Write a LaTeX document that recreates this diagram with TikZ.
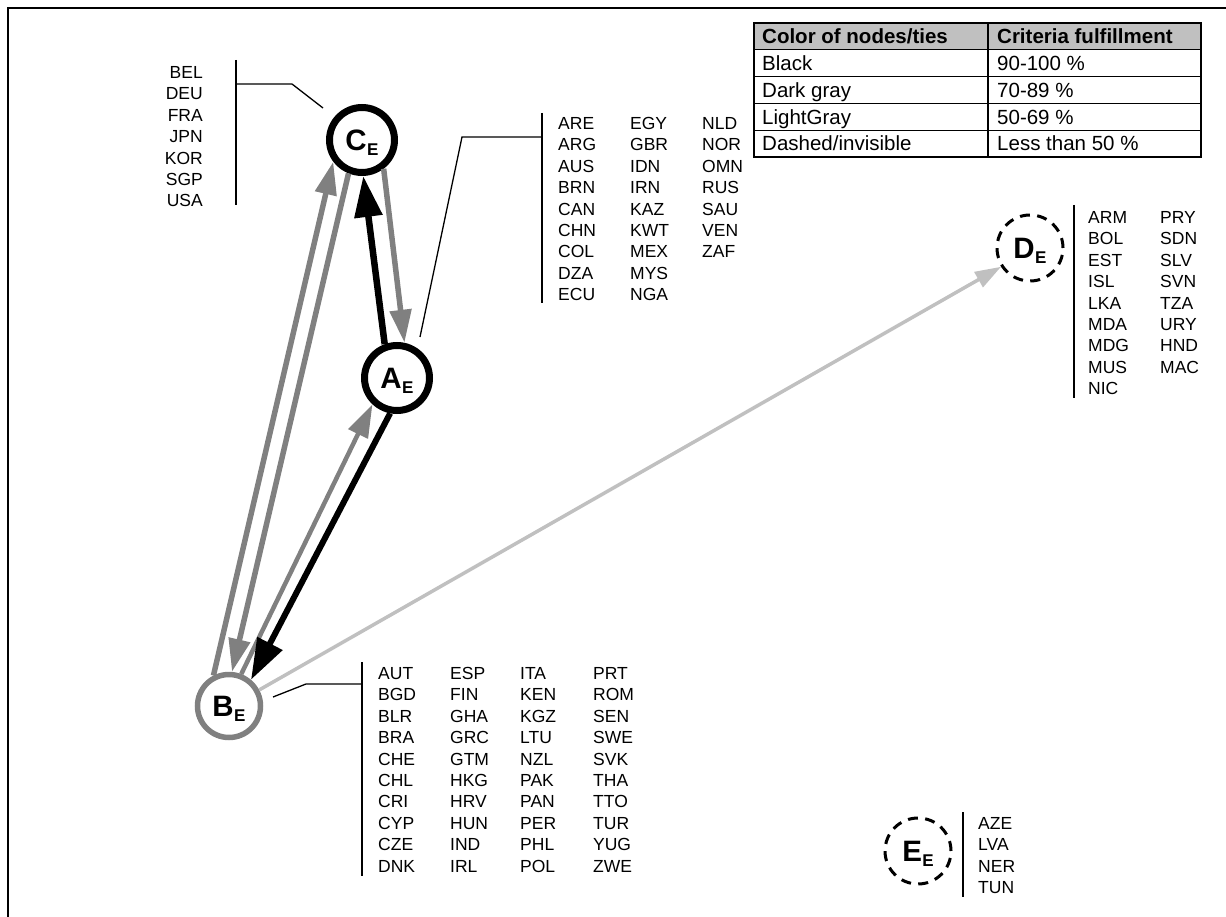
\documentclass[tikz,border=0pt]{standalone}
\usepackage{fontspec}
\setmainfont{Liberation Sans}
\usepackage{array}
\usetikzlibrary{arrows.meta}

\definecolor{dgray}{RGB}{128,128,128}
\definecolor{lgray}{RGB}{192,192,192}
\definecolor{hdrgray}{RGB}{192,192,192}

\newcommand{\listfont}{\fontsize{17.5}{21.4}\selectfont}
\newcommand{\tabfont}{\fontsize{20.5}{24}\selectfont}
\newcommand{\nlab}[1]{{\fontsize{29.5}{31}\selectfont\bfseries #1}\kern0.5pt\raisebox{-5pt}{\fontsize{17}{19}\selectfont\bfseries E}}

\begin{document}
\begin{tikzpicture}[x=1pt,y=-1pt,
  blkstate/.style={circle, inner sep=0pt, text depth=0pt, minimum size=65pt, line width=7pt, draw=black},
  grystate/.style={circle, inner sep=0pt, text depth=0pt, minimum size=63pt, line width=5.5pt, draw=dgray},
  dshstate/.style={circle, inner sep=0pt, text depth=0pt, minimum size=66pt, line width=3pt, draw=black, dash pattern=on 10pt off 7.3pt},
  blktie/.style={draw=black, line width=6.5pt, -{Triangle[length=41pt,width=27pt]}},
  grytie/.style={draw=dgray, line width=5.5pt, -{Triangle[length=33pt,width=21pt]}},
  lgrtie/.style={draw=lgray, line width=3.5pt, -{Triangle[length=26pt,width=17pt]}},
  leader/.style={draw=black, line width=1.3pt},
  thickbar/.style={draw=black, line width=2.2pt},
  lst/.style={inner sep=0pt, font=\listfont},
  tabtxt/.style={inner sep=0pt, anchor=base west, font=\tabfont}
]
\useasboundingbox (0,0) rectangle (1226,917);

% frame
\coordinate (fbl) at (8,917);
\coordinate (ftl) at (8,8);
\coordinate (ftr) at (1226,8);
\draw[line width=2pt] (fbl) -- (ftl) -- (ftr);

% table
\fill[hdrgray] (754,23) rectangle (1201,49.8);
\foreach \yy in {49.8,76.6,103.4,130.2} \draw[line width=1.3pt] (754,\yy) -- (1201,\yy);
\draw[line width=1.3pt] (988,23) -- (988,157);
\draw[line width=2pt] (754,23) rectangle (1201,157);
\node[tabtxt] (h1) at (762,43.7) {\bfseries Color of nodes/ties};
\node[tabtxt] (h2) at (997,43.7) {\bfseries Criteria fulfillment};
\node[tabtxt] (r1a) at (762,70.5) {Black};
\node[tabtxt] (r1b) at (997,70.5) {90-100 \%};
\node[tabtxt] (r2a) at (762,97.3) {Dark gray};
\node[tabtxt] (r2b) at (997,97.3) {70-89 \%};
\node[tabtxt] (r3a) at (762,124.1) {LightGray};
\node[tabtxt] (r3b) at (997,124.1) {50-69 \%};
\node[tabtxt] (r4a) at (762,150.9) {Dashed/invisible};
\node[tabtxt] (r4b) at (997,150.9) {Less than 50 \%};

% states
\node[blkstate] (C) at (362,140) {\nlab{C}};
\node[blkstate] (A) at (397,378) {\nlab{A}};
\node[grystate] (B) at (229,706) {\nlab{B}};
\node[dshstate] (D) at (1030,248) {\nlab{D}};
\node[dshstate] (E) at (918,851) {\nlab{E}};

% ties
\draw[grytie] (B.117) -- (C.217.5);
\draw[grytie] (C.248) -- (B.85.5);
\draw[blktie] (A.110) -- (C.272);
\draw[grytie] (C.307.5) -- (A.78);
\draw[grytie, line width=4.5pt] (B.69) -- (A.227);
\draw[blktie, line width=6pt] (A.259) -- (B.50.6);
\draw[lgrtie] (B.28.6) -- (D.213);

% C list
\node[lst, anchor=north east] (Clist) at (203,63.3) {\begin{tabular}{@{}r@{}}BEL\\DEU\\FRA\\JPN\\KOR\\SGP\\USA\end{tabular}};
\coordinate (Cbt) at (236,60);
\coordinate (Cbb) at (236,205);
\coordinate (Cbm) at (236,84);
\coordinate (Ck) at (292,84);
\coordinate (Ce) at (323,108);
\draw[leader] (Cbt) -- (Cbb);
\draw[leader] (Cbm) -- (Ck) -- (Ce);

% A list
\node[lst, anchor=north west] (Alist) at (558,114.3) {\begin{tabular}{@{}p{72pt}@{}p{72pt}@{}l@{}}
ARE & EGY & NLD\\ ARG & GBR & NOR\\ AUS & IDN & OMN\\ BRN & IRN & RUS\\ CAN & KAZ & SAU\\ CHN & KWT & VEN\\ COL & MEX & ZAF\\ DZA & MYS & \\ ECU & NGA & \end{tabular}};
\coordinate (Abt) at (542,113);
\coordinate (Abb) at (542,303);
\coordinate (Abm) at (542,137);
\coordinate (Ak) at (462,137);
\coordinate (Ae) at (420,337);
\draw[leader] (Abt) -- (Abb);
\draw[leader] (Abm) -- (Ak) -- (Ae);

% D list
\node[lst, anchor=north west] (Dlist) at (1088,208.3) {\begin{tabular}{@{}p{72pt}@{}l@{}}
ARM & PRY\\ BOL & SDN\\ EST & SLV\\ ISL & SVN\\ LKA & TZA\\ MDA & URY\\ MDG & HND\\ MUS & MAC\\ NIC & \end{tabular}};
\coordinate (Dbt) at (1074,205);
\coordinate (Dbb) at (1074,398);
\draw[thickbar] (Dbt) -- (Dbb);

% B list
\node[lst, anchor=north west] (Blist) at (378,664.3) {\begin{tabular}{@{}p{72pt}@{}p{70pt}@{}p{73pt}@{}l@{}}
AUT & ESP & ITA & PRT\\ BGD & FIN & KEN & ROM\\ BLR & GHA & KGZ & SEN\\ BRA & GRC & LTU & SWE\\ CHE & GTM & NZL & SVK\\ CHL & HKG & PAK & THA\\ CRI & HRV & PAN & TTO\\ CYP & HUN & PER & TUR\\ CZE & IND & PHL & YUG\\ DNK & IRL & POL & ZWE\end{tabular}};
\coordinate (Bbt) at (362,662);
\coordinate (Bbb) at (362,876);
\coordinate (Bbm) at (362,684);
\coordinate (Bk) at (306,684);
\coordinate (Be) at (273,697);
\draw[leader] (Bbt) -- (Bbb);
\draw[leader] (Bbm) -- (Bk) -- (Be);

% E list
\node[lst, anchor=north west] (Elist) at (978,814.3) {\begin{tabular}{@{}l@{}}AZE\\LVA\\NER\\TUN\end{tabular}};
\coordinate (Ebt) at (963,812);
\coordinate (Ebb) at (963,897);
\draw[thickbar] (Ebt) -- (Ebb);
\end{tikzpicture}
\end{document}
